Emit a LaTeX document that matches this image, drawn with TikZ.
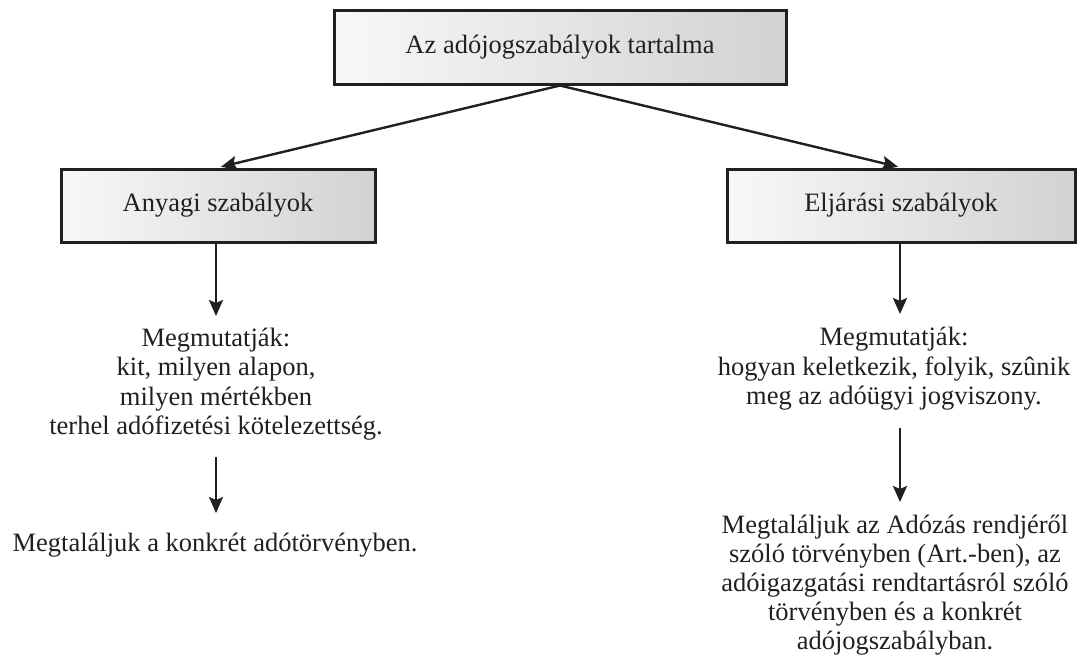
\documentclass[tikz,border=0pt]{standalone}
\usepackage{fontspec}
\setmainfont{Liberation Serif}
\usetikzlibrary{arrows.meta}

\definecolor{boxleft}{HTML}{F8F8F8}
\definecolor{boxright}{HTML}{D2D2D2}
\definecolor{ink}{HTML}{231F20}

\tikzset{
  titlebox/.style={draw=ink, line width=3pt, rectangle, inner sep=0pt,
    left color=boxleft, right color=boxright,
    font=\fontsize{26.5}{29.5}\selectfont, text=ink},
  plaintext/.style={align=center, inner sep=0pt,
    font=\fontsize{26.5}{29.5}\selectfont, text=ink},
  link/.style={draw=ink, line width=2.4pt,
    -{Stealth[length=16pt, width=14pt, inset=3pt]}}
}

\begin{document}
\begin{tikzpicture}[x=1pt, y=-1pt]
  \useasboundingbox (0,0) rectangle (1078,654);

  % header and the two branches
  \node[titlebox, minimum width=452pt, minimum height=74pt] (top) at (560,47)
    {Az adójogszabályok tartalma};
  \node[titlebox, minimum width=314pt, minimum height=73pt] (anyagi) at (218,205.5)
    {Anyagi szabályok};
  \node[titlebox, minimum width=348pt, minimum height=73pt] (eljarasi) at (901,205.5)
    {Eljárási szabályok};

  % left column
  \node[plaintext] (a1) at (216,384)
    {Megmutatják:\\kit, milyen alapon,\\milyen mértékben\\terhel adófizetési kötelezettség.};
  \node[plaintext] (a2) at (215,545)
    {Megtaláljuk a konkrét adótörvényben.};

  % right column
  \node[plaintext] (e1) at (894,369)
    {Megmutatják:\\hogyan keletkezik, folyik, szûnik\\meg az adóügyi jogviszony.};
  \node[plaintext, font=\fontsize{26.5}{29}\selectfont] (e2) at (895,585)
    {Megtaláljuk az Adózás rendjéről\\szóló törvényben (Art.-ben), az\\adóigazgatási rendtartásról szóló\\törvényben és a konkrét\\adójogszabályban.};

  % connectors
  \draw[link, shorten >=3pt] (top.south) -- (anyagi.north);
  \draw[link, shorten >=3pt] (top.south) -- (eljarasi.north);

  \coordinate (aTip1) at (216,316);
  \coordinate (aTail2) at (216,457);
  \coordinate (aTip2) at (216,513);
  \draw[link] (anyagi.south -| aTip1) -- (aTip1);
  \draw[link] (aTail2) -- (aTip2);

  \coordinate (eTip1) at (900,314);
  \coordinate (eTail2) at (900,428);
  \coordinate (eTip2) at (900,502);
  \draw[link] (eljarasi.south -| eTip1) -- (eTip1);
  \draw[link] (eTail2) -- (eTip2);
\end{tikzpicture}
\end{document}
